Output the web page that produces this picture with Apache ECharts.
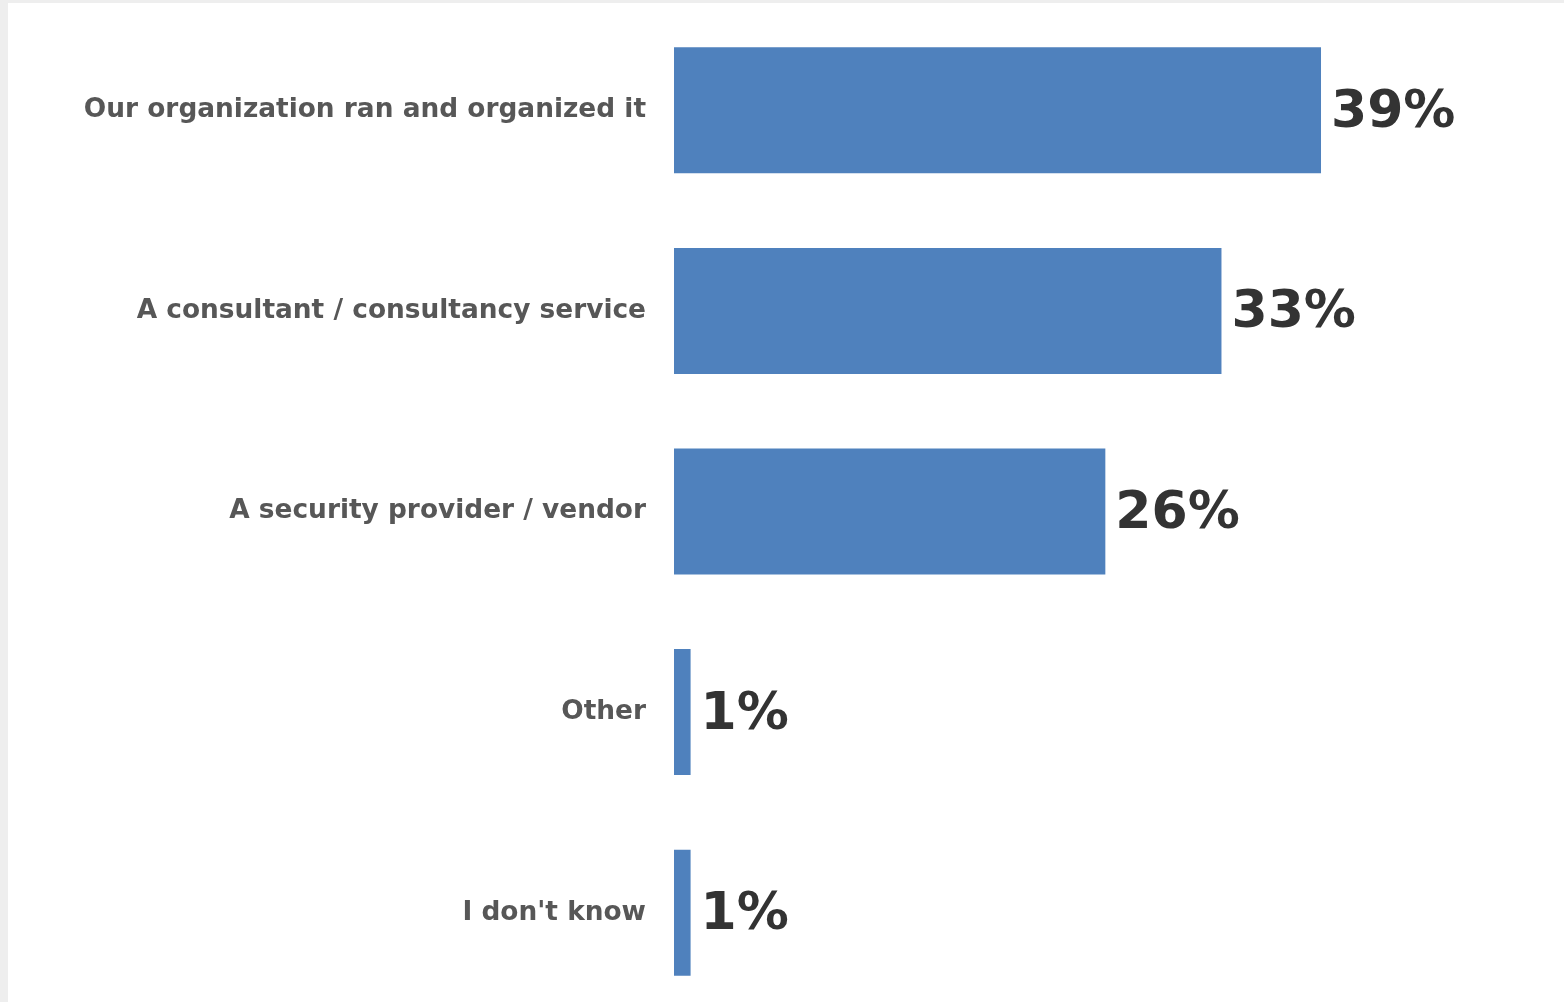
<!DOCTYPE html>
<html>
<head>
<meta charset="utf-8">
<script src="https://cdn.jsdelivr.net/npm/echarts@6/dist/echarts.min.js"></script>
<style>
  html, body { margin: 0; padding: 0; background: #efefef; overflow: hidden; }
  #chart { width: 1564px; height: 1013px; }
</style>
</head>
<body>
<div id="chart"></div>
<script>
// Who ran the exercise — share of responses
const categories = [
  'Our organization ran and organized it',
  'A consultant / consultancy service',
  'A security provider / vendor',
  'Other',
  "I don't know"
];
const shares = [39, 33, 26, 1, 1];

const chart = echarts.init(document.getElementById('chart'));

chart.setOption({
  backgroundColor: '#ffffff',
  animation: false,
  graphic: [
    { type: 'rect', shape: { x: 0, y: 0, width: 8, height: 1013 }, style: { fill: '#eeeeee' }, silent: true },
    { type: 'rect', shape: { x: 0, y: 0, width: 1564, height: 3 }, style: { fill: '#eeeeee' }, silent: true }
  ],
  grid: {
    left: 674,
    top: 10,
    width: 663.6,
    bottom: 0,
    containLabel: false
  },
  xAxis: {
    type: 'value',
    min: 0,
    max: 40,
    show: false
  },
  yAxis: {
    type: 'category',
    data: categories,
    inverse: true,
    axisLine: { show: false },
    axisTick: { show: false },
    splitLine: { show: false },
    axisLabel: {
      margin: 28,
      color: '#575757',
      fontSize: 26.4,
      fontWeight: 'bold',
      fontFamily: '"DejaVu Sans", sans-serif'
    }
  },
  series: [{
    type: 'bar',
    data: shares,
    barWidth: 126,
    itemStyle: { color: '#4f81bd' },
    label: {
      show: true,
      position: 'right',
      distance: 10,
      offset: [0, 3],
      formatter: '{c}%',
      color: '#333333',
      fontSize: 52,
      fontWeight: 'bold',
      fontFamily: '"DejaVu Sans", sans-serif'
    }
  }]
});
</script>
</body>
</html>
